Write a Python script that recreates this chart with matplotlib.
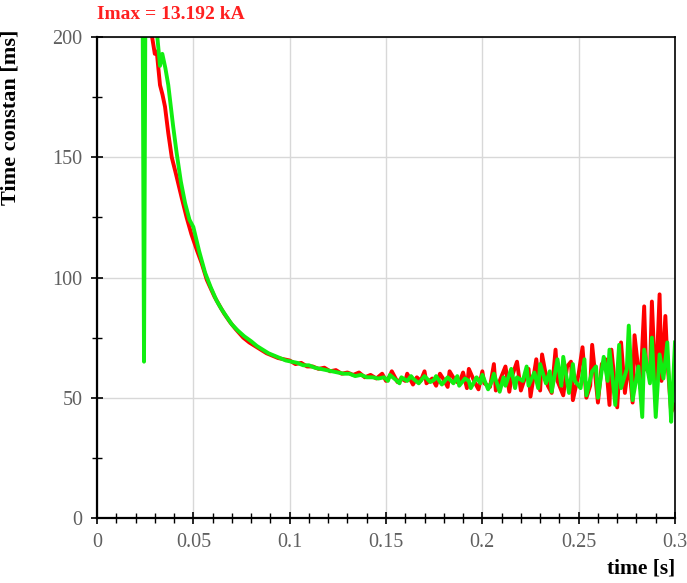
import matplotlib
matplotlib.use("Agg")
import matplotlib.pyplot as plt
from matplotlib.ticker import MultipleLocator, FixedLocator

# red curve (time [s], time constant [ms])
t_red = [0.0284, 0.030, 0.031, 0.0327, 0.034, 0.0353, 0.037, 0.0388, 0.041, 0.044,
         0.0465, 0.049, 0.052, 0.0543, 0.057, 0.0587, 0.061, 0.0638, 0.066, 0.069,
         0.072, 0.0759, 0.079, 0.082, 0.085, 0.088, 0.091, 0.094, 0.097, 0.100,
         0.103, 0.106, 0.109, 0.112, 0.115, 0.118, 0.121, 0.124, 0.127, 0.130,
         0.133, 0.136, 0.139, 0.142, 0.145, 0.148,
         0.150, 0.152, 0.153, 0.156, 0.158, 0.160, 0.161, 0.164, 0.166, 0.168,
         0.170, 0.171, 0.174, 0.176, 0.178, 0.180, 0.182, 0.183, 0.186, 0.188,
         0.190, 0.192, 0.193, 0.196, 0.198, 0.200, 0.201, 0.204, 0.206, 0.207,
         0.210, 0.212, 0.214, 0.215, 0.218, 0.220, 0.222, 0.224, 0.225, 0.228,
         0.230, 0.231, 0.234, 0.236, 0.238, 0.239, 0.242, 0.244, 0.246, 0.247,
         0.250, 0.252, 0.254, 0.256, 0.257, 0.260, 0.262, 0.264, 0.266, 0.267,
         0.270, 0.272, 0.274, 0.276, 0.278, 0.279, 0.282, 0.284, 0.285, 0.287,
         0.288, 0.290, 0.292, 0.293, 0.295, 0.296, 0.298, 0.300]
v_red = [201, 193, 194, 180, 176, 171, 160, 150, 143, 133,
         125, 118, 111, 106, 99, 96, 92, 88, 85, 81.5,
         78.5, 75, 73, 71.5, 70, 68.5, 67.5, 66.5, 66, 65.5,
         64, 64.5, 63, 63, 62, 62.5, 61, 61.5, 60, 60.5,
         59.5, 60.5, 58.5, 59.5, 58, 60,
         57, 59, 61, 56.5, 58, 57, 60, 55.5, 58.5, 57,
         61, 56, 58, 55, 60, 57.5, 54.5, 61, 57, 56,
         60.5, 54, 62, 56.5, 53.5, 61, 56, 54.5, 64, 53,
         59, 63, 52.5, 58, 65, 53, 58, 62, 50.5, 66,
         53, 68, 55, 52, 70, 57, 51, 63, 65, 49,
         60, 71, 50, 55, 72, 48, 64, 66, 47, 70,
         46, 73, 52, 65, 48, 76, 54, 88, 62, 60,
         90, 52, 93, 57, 84, 66, 44, 47]

# green curve
t_green = [0.0236, 0.0244, 0.0252, 0.0312, 0.0327, 0.0339, 0.0355, 0.037, 0.0395, 0.0413,
           0.0435, 0.0457, 0.048, 0.050, 0.053, 0.0561, 0.059, 0.062, 0.0645, 0.067,
           0.070, 0.073, 0.0765, 0.080, 0.083, 0.086, 0.089, 0.092, 0.095, 0.098,
           0.101, 0.104, 0.107, 0.110, 0.113, 0.116, 0.119, 0.122, 0.125, 0.128,
           0.131, 0.134, 0.137, 0.140, 0.143, 0.146, 0.149,
           0.151, 0.152, 0.155, 0.157, 0.158, 0.161, 0.163, 0.164, 0.167, 0.169,
           0.170, 0.173, 0.175, 0.176, 0.179, 0.181, 0.182, 0.185, 0.187, 0.188,
           0.191, 0.193, 0.194, 0.197, 0.199, 0.200, 0.203, 0.205, 0.206, 0.209,
           0.211, 0.212, 0.215, 0.217, 0.218, 0.221, 0.223, 0.224, 0.227, 0.229,
           0.230, 0.233, 0.235, 0.236, 0.239, 0.241, 0.242, 0.245, 0.247, 0.248,
           0.251, 0.253, 0.254, 0.257, 0.259, 0.260, 0.263, 0.265, 0.266, 0.269,
           0.271, 0.272, 0.275, 0.276, 0.278, 0.281, 0.283, 0.284, 0.287, 0.288,
           0.290, 0.292, 0.294, 0.296, 0.298, 0.299, 0.300]
v_green = [230, 65, 230, 201, 188, 193, 187, 180, 163, 152,
           140, 131, 124, 121, 111, 102, 96, 90.5, 87, 84,
           80.5, 78, 75.5, 73.5, 71.5, 70, 68.5, 67.5, 66.5, 65.5,
           65, 64.5, 63.5, 63.5, 62.5, 62, 61.5, 61, 60.5, 60,
           60, 59, 59.5, 58.5, 58.5, 58, 58.5,
           57, 59.5, 57.5, 56, 58.5, 57, 59, 58, 56, 58,
           59, 56.5, 57.5, 59, 55.5, 57.5, 58.5, 56, 59, 55,
           58, 57, 54, 58.5, 56, 59.5, 53.5, 57, 60, 52.5,
           58.5, 55, 62, 54, 58.5, 57, 63, 55, 60.5, 54,
           64, 56, 61, 52.5, 66, 55, 67, 52, 64, 57,
           54, 66, 51, 61, 63, 50, 67, 57, 70, 47,
           72, 54, 62, 80, 49, 63, 42, 70, 56, 75,
           42, 68, 58, 73, 40, 56, 73]

title_text = "Imax = 13.192 kA"
x_label = "time [s]"
y_label = "Time constan [ms]"

serif = ["Liberation Serif", "DejaVu Serif"]

fig = plt.figure(figsize=(6.87, 5.83), dpi=100)
ax = fig.add_axes([97 / 687, 65 / 583, 578 / 687, 481 / 583])

ax.plot(t_red, v_red, color="#ff0000", lw=2.8, solid_joinstyle="round")
ax.plot(t_green, v_green, color="#11ee11", lw=2.8, solid_joinstyle="round")

ax.set_xlim(0, 0.3)
ax.set_ylim(0, 200)
ax.xaxis.set_major_locator(FixedLocator([0, 0.05, 0.1, 0.15, 0.2, 0.25, 0.3]))
ax.xaxis.set_minor_locator(MultipleLocator(0.01))
ax.yaxis.set_major_locator(MultipleLocator(50))
ax.yaxis.set_minor_locator(MultipleLocator(25))
ax.set_xticklabels(["0", "0.05", "0.1", "0.15", "0.2", "0.25", "0.3"])

ax.grid(True, which="major", color="#d8d8d8", lw=1.0)
ax.set_axisbelow(True)

ax.tick_params(which="major", direction="inout", length=9, width=1.2, color="black",
               labelcolor="#606060", labelsize=14.5, pad=6)
ax.tick_params(which="minor", direction="inout", length=7, width=1.0, color="black")
ax.tick_params(top=False, right=False, which="both")
for lab in ax.get_xticklabels() + ax.get_yticklabels():
    lab.set_family(serif)

for side in ["left", "bottom"]:
    ax.spines[side].set_linewidth(1.6)
for side in ["top", "right"]:
    ax.spines[side].set_linewidth(1.2)

ax.text(0.0, 1.03, title_text, transform=ax.transAxes, ha="left", va="bottom",
        color="#ff2020", fontsize=14, fontweight="bold", family=serif)
fig.text(675 / 687, (583 - 568) / 583, x_label, ha="right", va="center",
         fontsize=15.5, fontweight="bold", family=serif)
fig.text(1 / 687, (583 - 117) / 583, y_label, rotation=90, ha="left", va="center",
         fontsize=16, fontweight="bold", family=serif)

fig.savefig("out.png", dpi=100)
